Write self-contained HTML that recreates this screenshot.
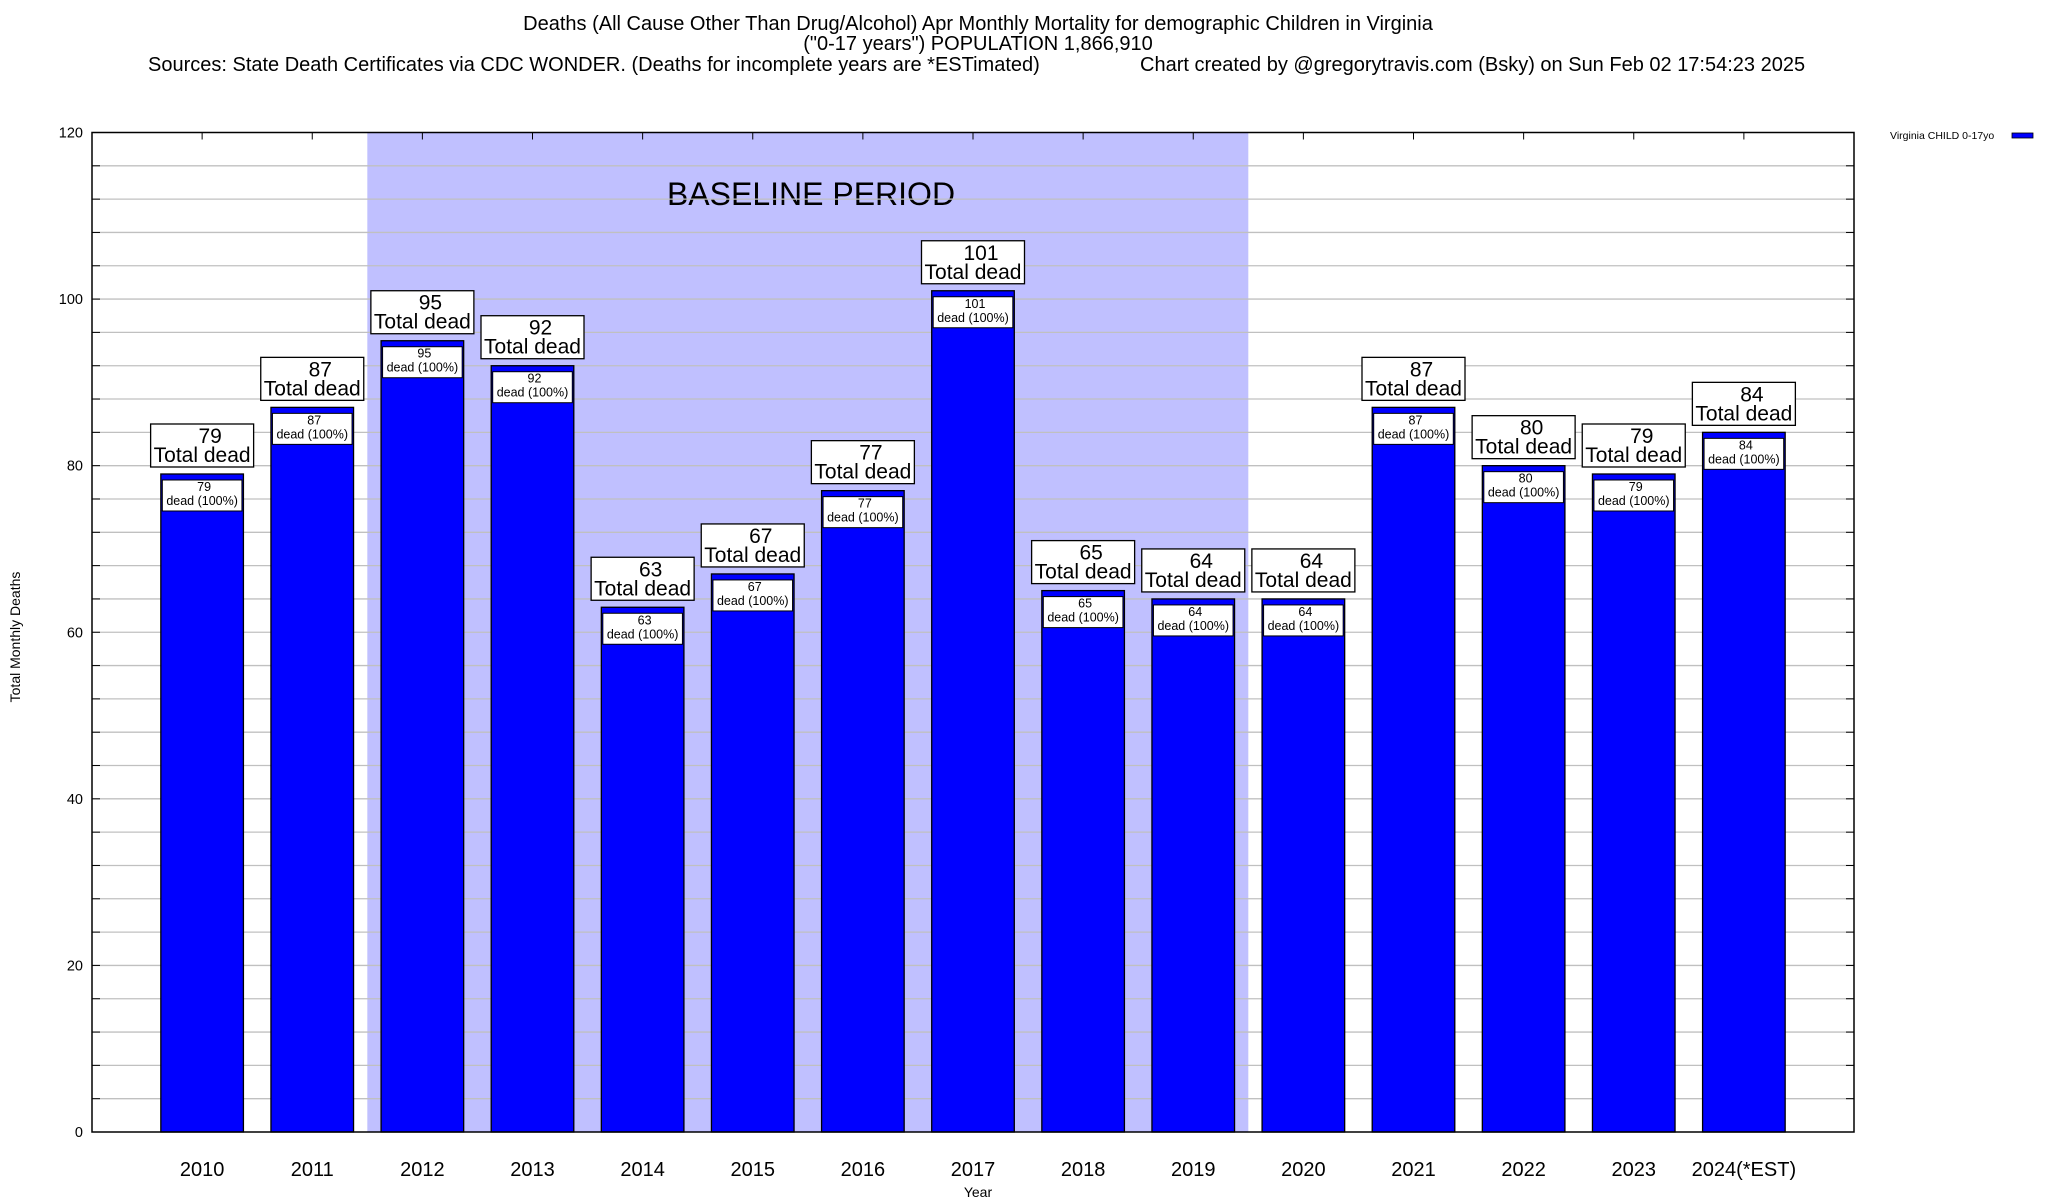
<!DOCTYPE html>
<html><head><meta charset="utf-8"><style>
html,body{margin:0;padding:0;background:#fff;}
svg{display:block;font-family:"Liberation Sans",Arial,sans-serif;}
</style></head><body>
<svg id="chart" width="2048" height="1200" viewBox="0 0 2048 1200">
<g font-size="20" fill="#000">
<text x="978" y="30" text-anchor="middle">Deaths (All Cause Other Than Drug/Alcohol) Apr Monthly Mortality for demographic Children in Virginia</text>
<text x="978" y="50" text-anchor="middle">("0-17 years") POPULATION 1,866,910</text>
<text x="148" y="71">Sources: State Death Certificates via CDC WONDER. (Deaths for incomplete years are *ESTimated)</text>
<text x="1140" y="71">Chart created by @gregorytravis.com (Bsky) on Sun Feb 02 17:54:23 2025</text>
</g>
<text x="20" y="637" font-size="14" text-anchor="middle" transform="rotate(-90 20 637)">Total Monthly Deaths</text>
<text x="978" y="1197" font-size="14" text-anchor="middle">Year</text>
<g>
<text x="1890" y="139" font-size="10.5">Virginia CHILD 0-17yo</text>
<rect x="2012" y="133" width="21" height="5" fill="#0000ff" stroke="#000" stroke-width="0.8"/>
</g>
<g id="plot"></g>
</svg>
<script>
const categories = ["2010","2011","2012","2013","2014","2015","2016","2017","2018","2019","2020","2021","2022","2023","2024(*EST)"];
const deaths = [79,87,95,92,63,67,77,101,65,64,64,87,80,79,84];
const yTicks = [0,20,40,60,80,100,120];
const baselineStart = "2012";
const baselineEnd = "2019";

const L=92, R=1854, T=132.5, B=1132, yMax=120;
const slot=(R-L)/(categories.length+1);
const x=i=>L+slot*(i+1);
const y=v=>B-(v/yMax)*(B-T);
const NS="http://www.w3.org/2000/svg";
const g=document.getElementById('plot');
function mk(tag,attrs,parent){const e=document.createElementNS(NS,tag);for(const k in attrs)e.setAttribute(k,attrs[k]);(parent||g).appendChild(e);return e;}

const bs=categories.indexOf(baselineStart), be=categories.indexOf(baselineEnd);
const shade=mk('rect',{x:x(bs)-slot/2,y:T,width:(be-bs+1)*slot,height:B-T,fill:'#c0c0ff'});


const bt=mk('text',{x:811,y:205,'font-size':32,'text-anchor':'middle'});
bt.textContent='BASELINE PERIOD';



for(let v=4;v<yMax;v+=4){
  const gl=mk('line',{x1:L,x2:R,y1:y(v),y2:y(v),stroke:'#c0c0c0','stroke-width':1.3});
  
  
  mk('line',{x1:L,x2:L+8,y1:y(v),y2:y(v),stroke:'#000','stroke-width':1});
  mk('line',{x1:R-8,x2:R,y1:y(v),y2:y(v),stroke:'#000','stroke-width':1});
}
yTicks.forEach(v=>{
  const t=mk('text',{x:L-9,y:y(v)+5,'font-size':14.5,'text-anchor':'end'});
  t.textContent=v;
  
  
});

categories.forEach((c,i)=>{
  const cx=x(i), v=deaths[i], w=slot*0.75, top=y(v);
  mk('line',{x1:cx,x2:cx,y1:T,y2:T+7,stroke:'#000','stroke-width':1});
  const bar=mk('rect',{x:cx-w/2,y:top,width:w,height:B-top,fill:'#0000ff',stroke:'#000','stroke-width':1.3});
  
  
  const ib=mk('rect',{x:cx-w/2+1.5,y:top+6,width:w-3,height:31,fill:'#fff',stroke:'#000','stroke-width':1});
  
  
  const t1=mk('text',{x:cx+2,y:top+17,'font-size':12.5,'text-anchor':'middle'});t1.textContent=v;
  const t2=mk('text',{x:cx,y:top+31,'font-size':12.5,'text-anchor':'middle'});t2.textContent='dead (100%)';
  const ob=mk('rect',{x:cx-51.5,y:top-50,width:103,height:43,fill:'#fff',stroke:'#000','stroke-width':1.3});
  
  
  const t3=mk('text',{x:cx+8,y:top-31,'font-size':21,'text-anchor':'middle'});t3.textContent=v;
  const t4=mk('text',{x:cx,y:top-12,'font-size':21,'text-anchor':'middle'});t4.textContent='Total dead';
  const xl=mk('text',{x:cx,y:1176,'font-size':20,'text-anchor':'middle'});xl.textContent=c;
  
  
});
const fr=mk('rect',{x:L,y:T,width:R-L,height:B-T,fill:'none',stroke:'#000','stroke-width':1.5});


</script>
</body></html>
